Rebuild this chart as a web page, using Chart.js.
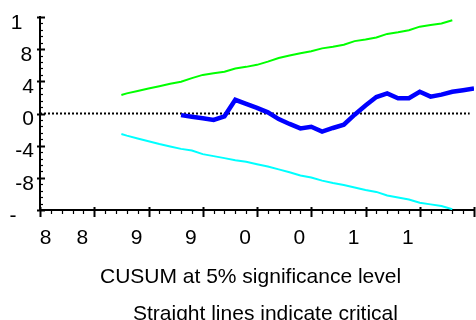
<!DOCTYPE html>
<html>
<head>
<meta charset="utf-8">
<script src="https://cdn.jsdelivr.net/npm/chart.js@4.4.1/dist/chart.umd.min.js"></script>
<style>
html,body{margin:0;padding:0;background:#fff;overflow:hidden}
#wrap{width:476px;height:320px;position:relative}
</style>
</head>
<body>
<div id="wrap"><canvas id="c" width="476" height="320"></canvas></div>
<script>
// ---- data ----
const CUSUM_YEARS = [1993,1994,1995,1996,1997,1998,1999,2000,2001,2002,2003,2004,2005,2006,2007,2008,2009,2010,2011,2012,2013,2014,2015,2016,2017,2018,2019,2020];
const CUSUM_VALUES = [-0.2,-0.4,-0.6,-0.8,-0.35,1.7,1.2,0.7,0.15,-0.7,-1.3,-1.85,-1.65,-2.25,-1.8,-1.4,-0.15,1.0,2.05,2.5,1.9,1.9,2.7,2.1,2.35,2.7,2.9,3.1];
const CRIT_YEARS = [1987.5,1988,1989,1990,1991,1992,1993,1994,1995,1996,1997,1998,1999,2000,2001,2002,2003,2004,2005,2006,2007,2008,2009,2010,2011,2012,2013,2014,2015,2016,2017,2018];
const UPPER_5PCT = [2.3,2.5,2.8,3.1,3.4,3.7,3.95,4.4,4.8,5.0,5.2,5.6,5.8,6.05,6.45,6.9,7.2,7.5,7.75,8.1,8.3,8.55,9.0,9.2,9.45,9.9,10.1,10.35,10.8,11.0,11.2,11.6];
const LOWER_5PCT = [-2.55,-2.75,-3.1,-3.45,-3.8,-4.1,-4.4,-4.6,-5.05,-5.3,-5.55,-5.8,-6.0,-6.3,-6.6,-6.95,-7.3,-7.7,-7.95,-8.35,-8.65,-8.9,-9.2,-9.5,-9.75,-10.2,-10.45,-10.7,-11.1,-11.3,-11.5,-11.9];
const ZERO_YEARS = [1980, 2019.6];
const ZERO_VALUES = [0, 0];

// ---- axis tick labels (as shown, truncated in the original) ----
const X_TICK_YEARS = [1980,1985,1990,1995,2000,2005,2010,2015,2020];
const X_TICK_LABELS = ['8','8','9','9','0','0','1','1',''];
const Y_TICK_VALUES = [-12,-8,-4,0,4,8,12];
const Y_TICK_LABELS = ['-','-8','-4','0','4','8','1'];
const CAPTION = ['CUSUM at 5% significance level','Straight lines indicate critical'];

const X_MIN = 1980, X_MAX = 2020, Y_MIN = -12, Y_MAX = 12;

const pts = (xs, ys) => xs.map((x, i) => ({x: x, y: ys[i]}));
const FONT = '"Liberation Sans", Arial, sans-serif';
// spacing nudges (style only) so truncated labels sit where the original put them
const X_LABEL_LEAD = ['\u2007','','','','','','','',''];
const Y_LABEL_TRAIL = ['\u2007\u2008','','','','','\u200A','\u2007'];

const tickMarks = {
  id: 'tickMarks',
  afterDraw(chart) {
    const ctx = chart.ctx, xs = chart.scales.x, ys = chart.scales.y;
    const ax = chart.chartArea.bottom;
    const ay = chart.chartArea.left;
    ctx.save();
    ctx.strokeStyle = '#000';
    for (let i = 0; i <= (X_MAX - X_MIN); i++) {
      const v = X_MIN + i;
      const px = Math.round(xs.getPixelForValue(v)) + 0.5;
      const major = i % 5 === 0;
      ctx.lineWidth = major ? 2 : 1.2;
      ctx.beginPath();
      ctx.moveTo(px, major ? ax - 3 : ax);
      ctx.lineTo(px, major ? ax + 7 : ax + 4);
      ctx.stroke();
    }
    for (let i = 0; i <= 30; i++) {
      const v = Y_MIN + i * 0.8;
      const py = Math.round(ys.getPixelForValue(v)) + 0.5;
      const major = i % 5 === 0;
      ctx.lineWidth = major ? 2 : 1.2;
      ctx.beginPath();
      ctx.moveTo(major ? ay - 3 : ay, py);
      ctx.lineTo(major ? ay + 5 : ay + 3, py);
      ctx.stroke();
    }
    ctx.fillStyle = '#000';
    ctx.font = '21px ' + FONT;
    ctx.textAlign = 'left';
    ctx.textBaseline = 'alphabetic';
    ctx.fillText(CAPTION[0], 100, 283);
    ctx.fillText(CAPTION[1], 133, 320);
    ctx.restore();
  }
};

new Chart(document.getElementById('c'), {
  type: 'line',
  data: {
    datasets: [
      { label: 'CUSUM', data: pts(CUSUM_YEARS, CUSUM_VALUES), borderColor: '#0000ff', borderWidth: 4.5, pointRadius: 0, tension: 0, fill: false },
      { label: 'Upper 5%', data: pts(CRIT_YEARS, UPPER_5PCT), borderColor: '#00ff00', borderWidth: 2, pointRadius: 0, tension: 0, fill: false },
      { label: 'Lower 5%', data: pts(CRIT_YEARS, LOWER_5PCT), borderColor: '#00ffff', borderWidth: 2, pointRadius: 0, tension: 0, fill: false },
      { label: 'Zero', data: pts(ZERO_YEARS, ZERO_VALUES), borderColor: '#000', borderWidth: 2, borderDash: [2, 2], pointRadius: 0, fill: false }
    ]
  },
  options: {
    responsive: false,
    animation: false,
    devicePixelRatio: 1,
    layout: { padding: { top: 17, right: 2, left: 0, bottom: 0 } },
    plugins: { legend: { display: false }, tooltip: { enabled: false }, title: { display: false } },
    scales: {
      x: {
        type: 'linear', min: X_MIN, max: X_MAX,
        afterFit(s) { s.height = 110; s.paddingLeft = 0; s.paddingRight = 0; },
        afterBuildTicks(s) { s.ticks = X_TICK_YEARS.map(v => ({ value: v })); },
        grid: { display: false, drawTicks: false },
        border: { display: true, color: '#000', width: 2 },
        ticks: {
          autoSkip: false, maxRotation: 0, minRotation: 0,
          align: 'inner', labelOffset: -12, padding: 16,
          color: '#000', font: { family: FONT, size: 21 },
          callback(v) { const i = X_TICK_YEARS.indexOf(v); return i >= 0 ? X_LABEL_LEAD[i] + X_TICK_LABELS[i] : ''; }
        }
      },
      y: {
        type: 'linear', min: Y_MIN, max: Y_MAX,
        afterFit(s) { s.width = 40; s.paddingTop = 0; s.paddingBottom = 0; },
        afterBuildTicks(s) { s.ticks = Y_TICK_VALUES.map(v => ({ value: v })); },
        grid: { display: false, drawTicks: false },
        border: { display: true, color: '#000', width: 2 },
        ticks: {
          autoSkip: false, labelOffset: 6, padding: 6,
          color: '#000', font: { family: FONT, size: 21 },
          callback(v) { const i = Y_TICK_VALUES.indexOf(v); return i >= 0 ? Y_TICK_LABELS[i] + Y_LABEL_TRAIL[i] : ''; }
        }
      }
    }
  },
  plugins: [tickMarks]
});
</script>
</body>
</html>
